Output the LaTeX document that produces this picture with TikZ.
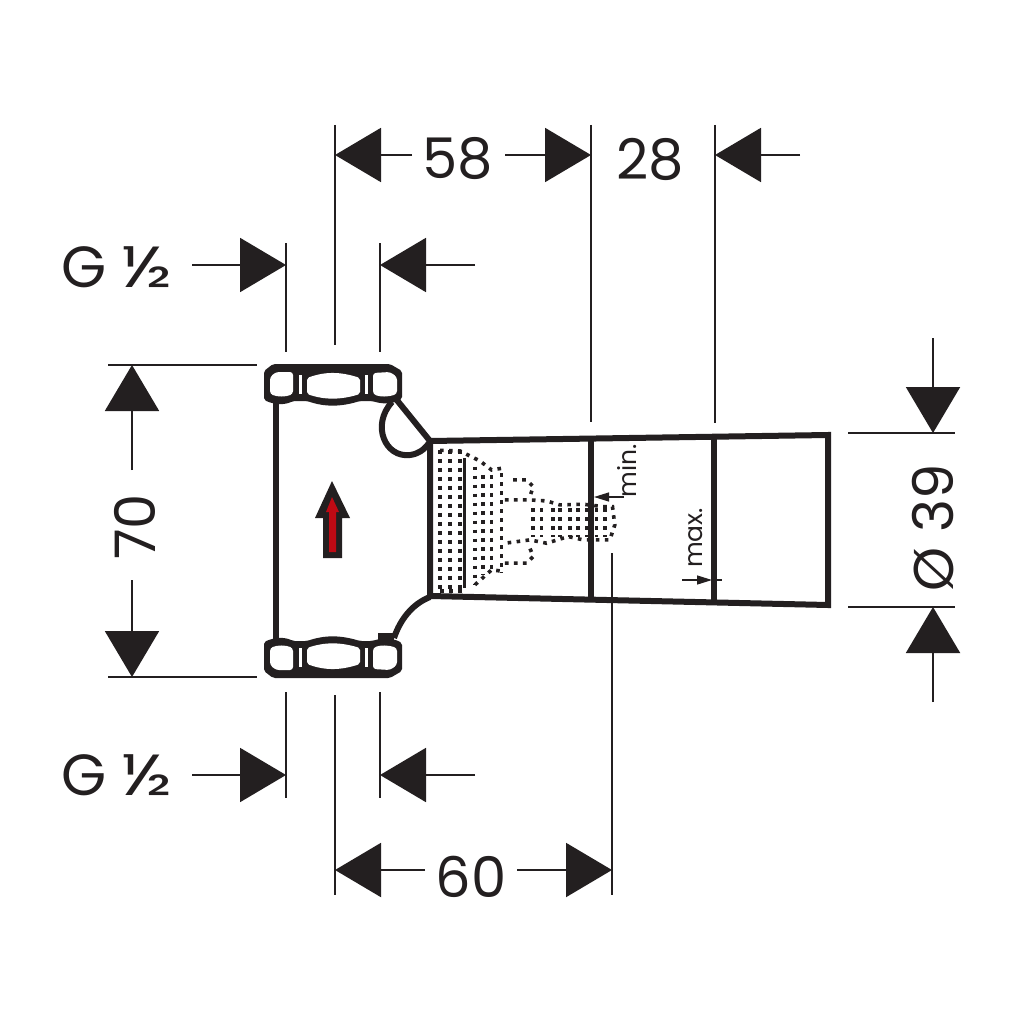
\documentclass[tikz,border=0pt]{standalone}
\usepackage{fontspec}
\setmainfont{Poppins}
\usetikzlibrary{arrows.meta}
\definecolor{inkblack}{RGB}{35,31,32}
\definecolor{flowred}{RGB}{190,10,20}
\tikzset{
  dimline/.style={draw=inkblack,line width=2pt},
  bigtip/.style={dimline,-{Triangle[length=46pt,width=54pt,color=inkblack]}},
  smalltip/.style={draw=inkblack,line width=1.3pt,-{Triangle[length=15pt,width=9pt,color=inkblack]}},
  bodyline/.style={draw=inkblack,line width=6pt,line join=miter},
  dimlabel/.style={text=inkblack,font=\fontsize{56}{60}\selectfont,inner sep=0pt},
  threadlabel/.style={text=inkblack,font=\fontsize{58}{62}\selectfont,inner sep=0pt},
  smalllabel/.style={text=inkblack,font=\fontsize{25}{27}\selectfont,inner sep=0pt,rotate=90},
  dots/.style={draw=inkblack,line width=3.6pt,dash pattern=on 3.6pt off 5.4pt},
}
% union nut, drawn in the coordinates of the top one
\newcommand{\drawnut}{%
\fill[inkblack,rounded corners=2pt] (264,371) -- (273,364) -- (390,364) -- (402,371) -- (402,399)
  .. controls (395,403) and (385,405) .. (372,401) -- (360,401)
  .. controls (340,407) and (325,407) .. (307,401) -- (293,401)
  .. controls (285,405) and (275,405) .. (264,400) -- cycle;
\fill[white,rounded corners=3pt] (270,377) -- (276,372) -- (293,372) -- (293,394)
  .. controls (285,397) and (278,397) .. (270,394) -- cycle;
\fill[white,rounded corners=2pt] (307,378) .. controls (325,371.5) and (340,371.5) .. (360,378)
  -- (360,394) .. controls (340,400) and (325,400) .. (307,394) -- cycle;
\fill[white,rounded corners=3pt] (373,373) -- (390,372) -- (397,377) -- (397,394)
  .. controls (388,397) and (380,397) .. (373,394) -- cycle;
\fill[white] (298.5,375) rectangle (301.5,394);
\fill[white] (364.5,375) rectangle (367.5,394);
}
\newcommand{\halfsign}{\scalebox{1.3}[1]{½}}
\begin{document}
\begin{tikzpicture}[x=1pt,y=-1pt]
\useasboundingbox[fill=white] (0,0) rectangle (1024,1024);
% body
\draw[bodyline] (275.5,398) -- (275.5,642);
\draw[bodyline] (396,399) -- (430,441) -- (828,435) -- (828,605) -- (430,596) -- (430,441);
\draw[bodyline] (392,402) .. controls (371,425) and (385,458) .. (410,455) .. controls (418,454) and (424,450) .. (429,443);
\draw[bodyline] (394,638) .. controls (400,620) and (412,604) .. (430,597);
\draw[bodyline] (591,441) -- (591,599);
\draw[bodyline] (714,437) -- (714,602);
\drawnut
\begin{scope}[yshift=-1042pt,yscale=-1]
\drawnut
\end{scope}
\fill[inkblack] (378,633) rectangle (394,644);
% flow arrow
\fill[inkblack] (332,481) -- (350,518) -- (342,518) -- (342,558) -- (323,558) -- (323,518) -- (315,518) -- cycle;
\fill[flowred] (332,497) -- (339,512) -- (336,512) -- (336,552) -- (329,552) -- (329,512) -- (326,512) -- cycle;
% dotted cartridge
\begin{scope}[shift={(420,425)},x=0.333pt,y=-0.333pt]
\foreach \cx in {60,90,120} \draw[dots] (\cx,75) -- (\cx,500);
\draw[inkblack,line width=3pt] (135,100) -- (135,490);
\foreach \cx/\ya/\yb in {165/125/480,190/150/450,215/150/440,245/145/445}
  \draw[dots] (\cx,\ya) -- (\cx,\yb);
\draw[dots] (60,76) -- (120,78) -- (180,108) -- (215,135) -- (245,130);
\draw[dots] (60,498) -- (125,498);
\draw[dots] (165,480) -- (215,435) -- (255,440);
\draw[dots] (280,165) -- (320,165) -- (340,185) -- (330,215);
\draw[dots] (255,225) -- (330,225) -- (380,228) -- (420,240) -- (490,238) -- (550,245) -- (578,245) -- (585,300) -- (570,345) -- (490,345) -- (445,335) -- (380,355) -- (330,345) -- (255,355);
\draw[dots] (255,415) -- (320,415) -- (340,395) -- (330,370);
\foreach \cx in {340,365,400,420,450,475,500,530,555}
  \draw[dots] (\cx,250) -- (\cx,335);
\end{scope}
% extension lines
\draw[dimline] (335,125) -- (335,345);
\draw[dimline] (591,125) -- (591,422);
\draw[dimline] (715,125) -- (715,423);
\draw[dimline] (286,243) -- (286,352);
\draw[dimline] (380,243) -- (380,352);
\draw[dimline] (286,692) -- (286,798);
\draw[dimline] (380,692) -- (380,798);
\draw[dimline] (335,695) -- (335,895);
\draw[dimline] (612,553) -- (612,895);
\draw[dimline] (108,365) -- (257,365);
\draw[dimline] (108,677) -- (257,677);
\draw[dimline] (848,433) -- (955,433);
\draw[dimline] (848,607) -- (955,607);
% dimensions
\node[dimlabel] (dimTop) at (458,159) {58};
\node[dimlabel] (dimStem) at (650,159) {28};
\node[dimlabel] (dimDepth) at (471,877) {60};
\node[dimlabel,rotate=90] (dimHeight) at (135,527) {70};
\node[dimlabel,rotate=90] (dimDia) at (933,528) {Ø 39};
\node[threadlabel,anchor=base] (threadTop) at (117,287) {G\hspace{14pt}\halfsign};
\node[threadlabel,anchor=base] (threadBottom) at (117,795) {G\hspace{14pt}\halfsign};
\draw[bigtip] (412,155) -- (335,155);
\draw[bigtip] (505,155) -- (591,155);
\draw[bigtip] (800,155) -- (715,155);
\draw[bigtip] (192,265) -- (286,265);
\draw[bigtip] (475,265) -- (380,265);
\draw[bigtip] (192,775) -- (286,775);
\draw[bigtip] (475,775) -- (380,775);
\draw[bigtip] (425,870) -- (335,870);
\draw[bigtip] (517,870) -- (612,870);
\draw[bigtip] (132,470) -- (132,365);
\draw[bigtip] (132,580) -- (132,677);
\draw[bigtip] (933,338) -- (933,433);
\draw[bigtip] (933,702) -- (933,607);
% min and max depth
\node[smalllabel] (labMin) at (627,471) {min.};
\node[smalllabel] (labMax) at (696,538) {max.};
\draw[smalltip] (624,497) -- (594,497);
\draw[smalltip] (682,580) -- (712,580);
\draw[draw=inkblack,line width=1.3pt] (712,580) -- (722,580);
\end{tikzpicture}
\end{document}
